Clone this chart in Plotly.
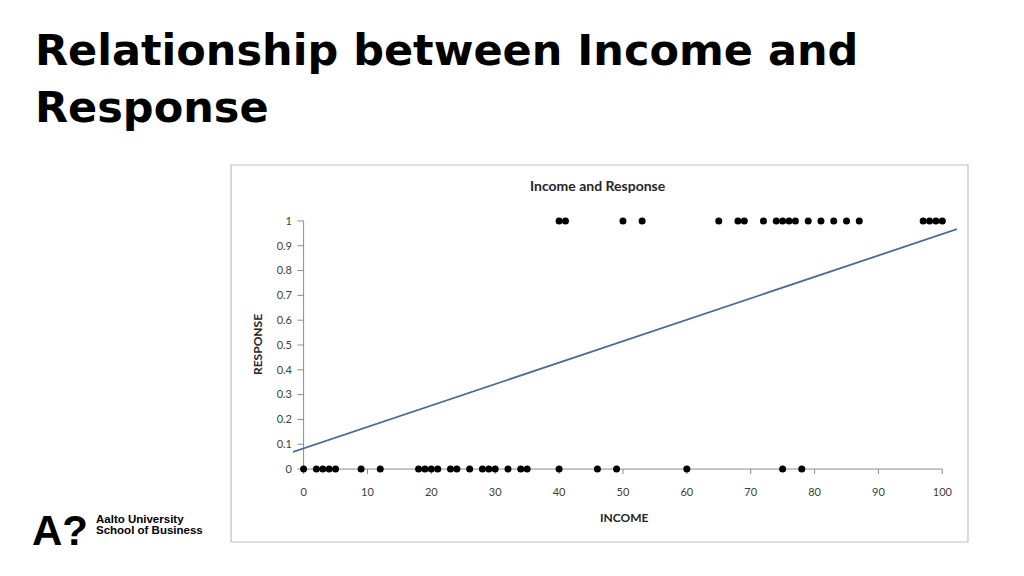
import plotly.graph_objects as go

# ---- data ----
income_resp0 = [0, 2, 3, 4, 5, 9, 12, 18, 19, 20, 21, 23, 24, 26, 28, 29, 30, 32, 34, 35, 40, 46, 49, 60, 75, 78]
income_resp1 = [40, 41, 50, 53, 65, 68, 69, 72, 74, 75, 76, 77, 79, 81, 83, 85, 87, 97, 98, 99, 100]
trend_x = [-1.66, 102.3]
trend_y = [0.069, 0.967]
x_ticks = [0, 10, 20, 30, 40, 50, 60, 70, 80, 90, 100]
y_ticks = [0, 0.1, 0.2, 0.3, 0.4, 0.5, 0.6, 0.7, 0.8, 0.9, 1]
y_tick_labels = ["0", "0.1", "0.2", "0.3", "0.4", "0.5", "0.6", "0.7", "0.8", "0.9", "1"]

W, H = 1024, 576
L, R, T, B = 293, 67, 211, 97
PW, PH = W - L - R, H - T - B


def px(x):
    return (x - L) / PW


def py(y):
    return (H - B - y) / PH


fig = go.Figure()
fig.add_trace(go.Scatter(
    x=trend_x, y=trend_y, mode="lines",
    line=dict(color="#4a6a9a", width=1.8), hoverinfo="skip", showlegend=False))
fig.add_trace(go.Scatter(
    x=income_resp0, y=[0] * len(income_resp0), mode="markers",
    marker=dict(color="#000000", size=7), cliponaxis=False, showlegend=False))
fig.add_trace(go.Scatter(
    x=income_resp1, y=[1] * len(income_resp1), mode="markers",
    marker=dict(color="#000000", size=7), cliponaxis=False, showlegend=False))

tick_font = dict(family="Lato, 'Open Sans', sans-serif", size=11, color="#404040")

fig.update_xaxes(range=[trend_x[0], trend_x[1]], tickmode="array", tickvals=x_ticks,
                 ticktext=[str(v) for v in x_ticks], showgrid=False, zeroline=False,
                 showline=False, ticks="", tickfont=tick_font, ticklabelstandoff=5)
fig.update_yaxes(range=[-0.04, 1.04], tickmode="array", tickvals=y_ticks,
                 ticktext=y_tick_labels, showgrid=False, zeroline=False,
                 showline=False, ticks="", tickfont=tick_font)

shapes = []
# chart frame
shapes.append(dict(type="rect", xref="paper", yref="paper",
                   x0=px(231), x1=px(968), y0=py(542), y1=py(165),
                   line=dict(color="#bfbfbf", width=1.2), fillcolor="rgba(0,0,0,0)", layer="below"))
axis_col = "#8c8c8c"
# axis lines
shapes.append(dict(type="line", xref="x", yref="y", x0=x_ticks[0], x1=x_ticks[-1], y0=0, y1=0,
                   line=dict(color=axis_col, width=1), layer="below"))
shapes.append(dict(type="line", xref="x", yref="y", x0=0, x1=0, y0=y_ticks[0], y1=y_ticks[-1],
                   line=dict(color=axis_col, width=1), layer="below"))
for v in x_ticks:
    shapes.append(dict(type="line", xref="x", yref="y", x0=v, x1=v, y0=0, y1=-0.02,
                       line=dict(color=axis_col, width=1), layer="below"))
for v in y_ticks:
    shapes.append(dict(type="line", xref="x", yref="y", x0=-0.95, x1=0, y0=v, y1=v,
                       line=dict(color=axis_col, width=1), layer="below"))

chart_font = "Lato, 'Open Sans', sans-serif"
title_font = "'DejaVu Sans', Arial, sans-serif"
logo_font = "'Liberation Sans', Arial, sans-serif"
annotations = [
    dict(text="<b>Income and Response</b>", x=px(598), y=py(185), xref="paper", yref="paper",
         showarrow=False, font=dict(family=chart_font, size=14, color="#262626"),
         xanchor="center", yanchor="middle"),
    dict(text="<b>INCOME</b>", x=px(624), y=py(517), xref="paper", yref="paper",
         showarrow=False, font=dict(family=chart_font, size=12, color="#262626"),
         xanchor="center", yanchor="middle"),
    dict(text="<b>RESPONSE</b>", x=px(257), y=py(345), xref="paper", yref="paper",
         showarrow=False, font=dict(family=chart_font, size=12, color="#262626"),
         xanchor="center", yanchor="middle", textangle=-90),
    dict(text="<b>Relationship between Income and</b>", x=px(33), y=py(50), xref="paper", yref="paper",
         showarrow=False, font=dict(family=title_font, size=43, color="#000000"),
         xanchor="left", yanchor="middle"),
    dict(text="<b>Response</b>", x=px(33), y=py(107), xref="paper", yref="paper",
         showarrow=False, font=dict(family=title_font, size=43, color="#000000"),
         xanchor="left", yanchor="middle"),
    dict(text="<b>A?</b>", x=px(30), y=py(530), xref="paper", yref="paper",
         showarrow=False, font=dict(family=logo_font, size=42, color="#000000"),
         xanchor="left", yanchor="middle"),
    dict(text="<b>Aalto University</b>", x=px(94), y=py(519), xref="paper", yref="paper",
         showarrow=False, font=dict(family=logo_font, size=11.5, color="#000000"),
         xanchor="left", yanchor="middle"),
    dict(text="<b>School of Business</b>", x=px(94), y=py(530), xref="paper", yref="paper",
         showarrow=False, font=dict(family=logo_font, size=11.5, color="#000000"),
         xanchor="left", yanchor="middle"),
]

fig.update_layout(
    width=W, height=H, margin=dict(l=L, r=R, t=T, b=B, pad=0),
    paper_bgcolor="#ffffff", plot_bgcolor="rgba(0,0,0,0)",
    shapes=shapes, annotations=annotations, showlegend=False,
)

fig.write_html("out.html", config={"displayModeBar": False},
               post_script="document.body.style.margin='0px';document.body.style.padding='0px';")
